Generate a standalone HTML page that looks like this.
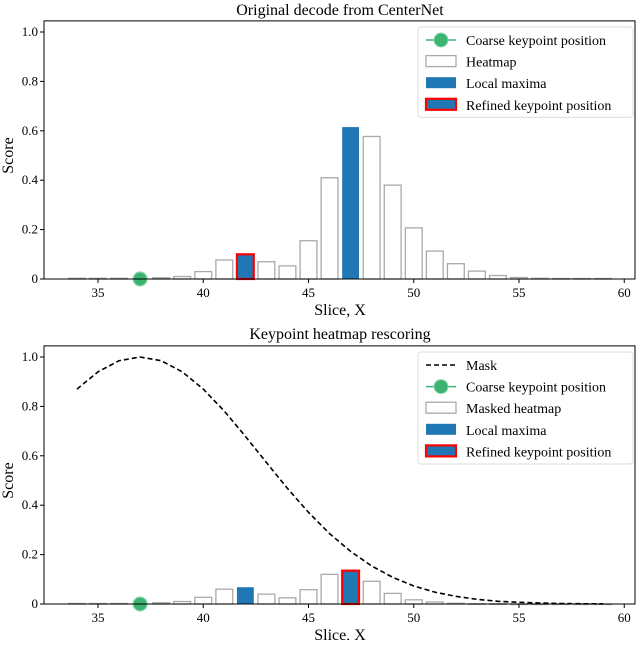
<!DOCTYPE html>
<html><head><meta charset="utf-8"><style>
body{margin:0;background:#fff}
svg{font-family:"Liberation Serif",serif}
</style></head><body>
<svg id="s" width="640" height="640" viewBox="0 0 640 640"></svg>
<script>
const slices=[34,35,36,37,38,39,40,41,42,43,44,45,46,47,48,49,50,51,52,53,54,55,56,57,58,59];
const heatmap=[0.003,0.003,0.003,0,0.005,0.01,0.03,0.077,0.1,0.07,0.053,0.155,0.41,0.615,0.577,0.38,0.207,0.113,0.062,0.032,0.014,0.006,0.003,0.002,0.002,0.002];
const topMaxima=[42,47];
const topRefined=42;
const mask=[0.870,0.940,0.985,1,0.985,0.940,0.870,0.781,0.679,0.573,0.468,0.371,0.285,0.213,0.154,0.108,0.073,0.048,0.031,0.019,0.011,0.007,0.004,0.002,0.001,0.0006];
const masked=[0.002,0.002,0.002,0,0.005,0.01,0.027,0.06,0.068,0.04,0.025,0.058,0.12,0.135,0.092,0.043,0.017,0.008,0.003,0.001,0.001,0,0,0,0,0];
const botMaxima=[42,47];
const botRefined=47;
const coarse=37;
const xTicks=[35,40,45,50,55,60];
const yTicks=[0,0.2,0.4,0.6,0.8,1.0];
const yTickLabels=["0","0.2","0.4","0.6","0.8","1.0"];

const S=document.getElementById('s');const NS='http://www.w3.org/2000/svg';
function mk(t,a,txt){const e=document.createElementNS(NS,t);for(const k in a)e.setAttribute(k,a[k]);if(txt!==undefined)e.textContent=txt;S.appendChild(e);return e;}
const X=v=>98+(v-35)*21.05;
const BLUE='#1f77b4',GREEN='#3cb371';
function panel(o){
  const Y=v=>o.y0-(v)*(o.y0-o.y1);
  const L=44,R=635;
  let e=mk('text',{x:340,y:o.ty,'text-anchor':'middle','font-size':16},o.title);
  
  // bars
  slices.forEach((s,i)=>{
    const v=o.vals[i];if(s===coarse)return;
    const isMax=o.maxima.includes(s);
    const x=X(s-0.4),w=21.05*0.8,y=Y(v),h=Math.max(o.y0-y,0.5);
    const b=mk('rect',{x:x,y:y,width:w,height:h,fill:isMax?BLUE:'#fff',stroke:isMax?(s===o.refined?'red':'none'):'#aaa','stroke-width':s===o.refined?2.2:1.3});
    
  });
  if(o.mask){
    const pts=slices.map((s,i)=>X(s)+','+Y(mask[i])).join(' ');
    const m=mk('polyline',{points:pts,fill:'none',stroke:'#000','stroke-width':1.6,'stroke-dasharray':'5,3'});
    
  }
  const c=mk('circle',{cx:X(coarse),cy:o.y0,r:7,fill:GREEN,stroke:'#8fd9b0','stroke-width':1.2});
  
  const ax=mk('rect',{x:L,y:o.y1-(o.y0-o.y1)*0.045,width:R-L,height:o.y0-o.y1+(o.y0-o.y1)*0.045,fill:'none',stroke:'#000','stroke-width':1});
  
  xTicks.forEach(t=>{mk('line',{x1:X(t),x2:X(t),y1:o.y0,y2:o.y0+4,stroke:'#000'});
    const l=mk('text',{x:X(t),y:o.y0+18,'text-anchor':'middle','font-size':13},t);
    });
  yTicks.forEach((t,i)=>{mk('line',{x1:L-4,x2:L,y1:Y(t),y2:Y(t),stroke:'#000'});
    const l=mk('text',{x:L-6,y:Y(t)+4,'text-anchor':'end','font-size':13},yTickLabels[i]);
    });
  e=mk('text',{x:340,y:o.y0+36,'text-anchor':'middle','font-size':16},'Slice, X');
  
  e=mk('text',{x:0,y:0,'text-anchor':'middle','font-size':16,transform:'translate(13,'+((o.y0+o.y1)/2)+') rotate(-90)'},'Score');
  
  // legend
  const lg=mk('rect',{x:418,y:o.ly,width:215,height:o.items.length*21.6+4,rx:3,fill:'#fff',stroke:'#ddd'});
  
  o.items.forEach((it,i)=>{const cy=o.ly+13+i*21.6;const sx=426;
    if(it[0]==='dash')mk('line',{x1:sx,x2:sx+30,y1:cy,y2:cy,stroke:'#000','stroke-width':1.6,'stroke-dasharray':'5,3'});
    if(it[0]==='mark'){mk('line',{x1:sx,x2:sx+30,y1:cy,y2:cy,stroke:GREEN,'stroke-width':1.5});mk('circle',{cx:sx+15,cy:cy,r:7,fill:GREEN,stroke:'#8fd9b0'});}
    if(it[0]==='heat')mk('rect',{x:sx,y:cy-6,width:30,height:11,fill:'#fff',stroke:'#aaa','stroke-width':1.3});
    if(it[0]==='max')mk('rect',{x:sx,y:cy-6,width:30,height:11,fill:BLUE});
    if(it[0]==='ref')mk('rect',{x:sx,y:cy-6,width:30,height:11,fill:BLUE,stroke:'red','stroke-width':2.2});
    const t=mk('text',{x:466,y:cy+5,'font-size':14},it[1]);
    });
}
panel({p:'top',title:'Original decode from CenterNet',ty:15,y0:279,y1:32,vals:heatmap,maxima:topMaxima,refined:topRefined,ly:27,
  items:[['mark','Coarse keypoint position'],['heat','Heatmap'],['max','Local maxima'],['ref','Refined keypoint position']]});
panel({p:'bottom',title:'Keypoint heatmap rescoring',ty:339,y0:604,y1:357,vals:masked,maxima:botMaxima,refined:botRefined,ly:352,mask:true,
  items:[['dash','Mask'],['mark','Coarse keypoint position'],['heat','Masked heatmap'],['max','Local maxima'],['ref','Refined keypoint position']]});
</script>
</body></html>
